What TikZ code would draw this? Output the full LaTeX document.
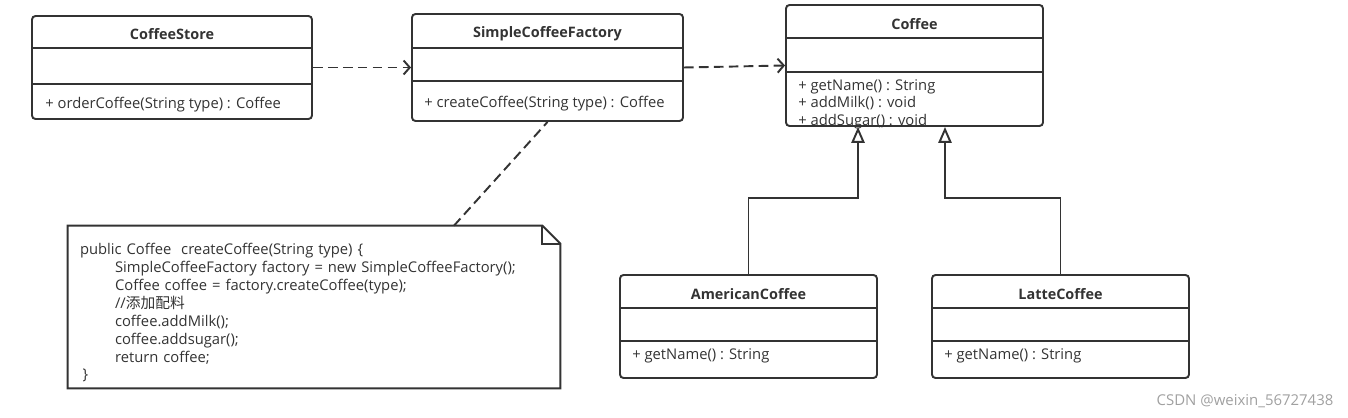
\documentclass[tikz,border=0pt]{standalone}
\usepackage{fontspec}
\setmainfont{Open Sans}
\newfontfamily\cjk{Noto Sans CJK SC}
\usetikzlibrary{arrows.meta}

\definecolor{linegray}{HTML}{333333}
\definecolor{textgray}{HTML}{333333}
\definecolor{markgray}{HTML}{A0A0A0}

\tikzstyle{classbox}=[draw=linegray, line width=1.1pt, rounded corners=2pt, inner sep=0pt]
\tikzstyle{classrule}=[draw=linegray, line width=1.1pt]
\tikzstyle{classname}=[font=\fontsize{8.2}{9}\selectfont\bfseries, text=textgray, inner sep=0pt, yshift=-0.05cm]
\tikzstyle{member}=[anchor=west, font=\fontsize{8.4}{9}\selectfont, text=textgray, inner sep=0pt, yshift=-0.05cm]
\tikzstyle{dep}=[draw=linegray, line width=1.1pt, dash pattern=on 5.5pt off 3pt, -{Straight Barb[length=3.5pt, width=8pt]}]
\tikzstyle{inherit}=[draw=linegray, line width=1.1pt, -{Triangle[open, length=9pt, width=7.5pt]}]
\tikzstyle{noteline}=[draw=linegray, line width=1.1pt, dash pattern=on 5.5pt off 3pt]
\tikzstyle{notebox}=[inner xsep=0.24cm, inner ysep=0pt, text width=9.36cm, align=left, font=\fontsize{8.4}{10.2}\selectfont, text=textgray]
\tikzstyle{watermark}=[font=\fontsize{8.5}{10}\selectfont, text=markgray, inner sep=0pt]

% class frame: name, left, top, right, bottom, first rule, second rule, title
\newcommand{\drawclass}[8]{
  \node[classbox, minimum width={(#4-#2)*0.02cm}, minimum height={(#5-#3)*0.02cm}] (#1) at ({(#2+#4)/2},{(#3+#5)/2}) {};
  \draw[classrule] (#2,#6) -- (#4,#6);
  \draw[classrule] (#2,#7) -- (#4,#7);
  \node[classname] (#1-title) at ({(#2+#4)/2},{(#3+#6)/2}) {#8};
}

\begin{document}
\begin{tikzpicture}[x=0.02cm, y=-0.02cm]
  \useasboundingbox (0,0) rectangle (1348,418);

  \drawclass{store}{32}{16}{312}{119}{48}{84}{CoffeeStore}
  \node[member] (store-op) at (45,102) {+ orderCoffee(String type) : Coffee};

  \drawclass{factory}{412}{14}{683}{121}{48}{81}{SimpleCoffeeFactory}
  \node[member] (factory-op) at (424,101) {+ createCoffee(String type) : Coffee};

  \drawclass{coffee}{786}{5}{1043}{126}{38}{72}{Coffee}
  \node[member] (coffee-op1) at (798,84)  {+ getName() : String};
  \node[member] (coffee-op2) at (798,101) {+ addMilk() : void};
  \node[member] (coffee-op3) at (798,119) {+ addSugar() : void};

  \drawclass{american}{620}{275}{877}{378}{308}{341}{AmericanCoffee}
  \node[member] (american-op) at (632,353) {+ getName() : String};

  \drawclass{latte}{932}{275}{1189}{378}{308}{341}{LatteCoffee}
  \node[member] (latte-op) at (944,353) {+ getName() : String};

  % note with folded corner
  \node[notebox, minimum width=9.84cm, minimum height=3.24cm] (note) at (314,307) {
    \rule{0pt}{13pt}public Coffee\ \ createCoffee(String type) \{\\
    \hspace*{0.7cm}SimpleCoffeeFactory factory = new SimpleCoffeeFactory();\\
    \hspace*{0.7cm}Coffee coffee = factory.createCoffee(type);\\
    \hspace*{0.7cm}//{\cjk 添加配料}\\
    \hspace*{0.7cm}coffee.addMilk();\\
    \hspace*{0.7cm}coffee.addsugar();\\
    \hspace*{0.7cm}return coffee;\\
    \hspace*{0.05cm}\}};
  \draw[classrule] (note.north west) -- ([xshift=-0.36cm]note.north east) -- ([yshift=-0.36cm]note.north east) -- (note.south east) -- (note.south west) -- cycle;
  \draw[classrule] ([xshift=-0.36cm]note.north east) |- ([yshift=-0.36cm]note.north east);

  % relations
  \draw[dep] (store.east) -- (factory.west);
  \draw[dep] (factory.east) -- (coffee.west);
  \draw[noteline] ([xshift=2.8cm]note.north) -- (factory.south);
  \draw[inherit] (american.north) -- ++(0,-76) -| ([xshift=-1.13cm]coffee.south);
  \draw[inherit] (latte.north) -- ++(0,-76) -| ([xshift=0.61cm]coffee.south);

  \node[watermark] (mark) at (1245,401) {CSDN @weixin\_56727438};
\end{tikzpicture}
\end{document}
